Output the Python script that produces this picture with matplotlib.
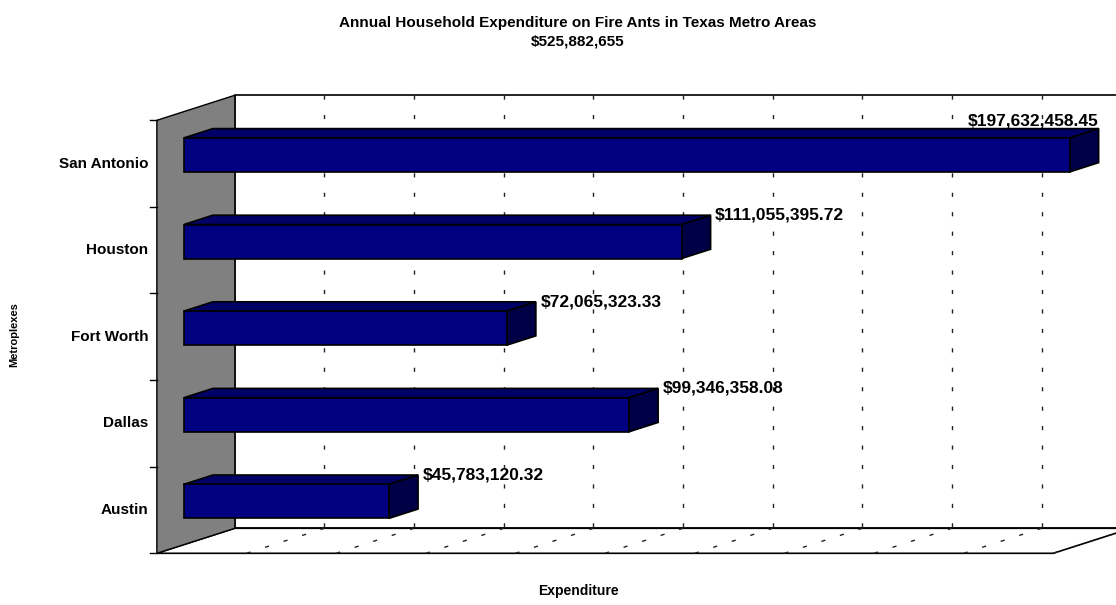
import numpy as np
import matplotlib.pyplot as plt
from matplotlib.patches import Polygon

plt.rcParams['font.family'] = ['Liberation Sans', 'DejaVu Sans']

cities = ['Austin', 'Dallas', 'Fort Worth', 'Houston', 'San Antonio']
spend = [45783120.32, 99346358.08, 72065323.33, 111055395.72, 197632458.45]
title = 'Annual Household Expenditure on Fire Ants in Texas Metro Areas\n$525,882,655'
xmax = 200e6
grid_step = 20e6

# fake 3d: depth shift of the whole box (data units), bar plane and bar depth
DX = 17.4e6
DY = 0.289
d0, d1 = 0.346, 0.718
bh = 0.393

fig = plt.figure(figsize=(11.16, 6.05), dpi=100)
ax = fig.add_axes([0, 0, 1, 1])
ax.set_xlim(-35.0e6, 214.0e6)
ax.set_ylim(-1.097, 5.889)
ax.axis('off')

n = len(cities)
lo, hi = -0.5, n - 0.5

# back wall
ax.add_patch(Polygon([(DX, lo + DY), (DX + xmax, lo + DY), (DX + xmax, hi + DY), (DX, hi + DY)],
                     closed=True, fc='white', ec='black', lw=1.2, zorder=1))
# floor
ax.add_patch(Polygon([(0, lo), (xmax, lo), (xmax + DX, lo + DY), (DX, lo + DY)],
                     closed=True, fc='white', ec='black', lw=1.2, zorder=1))
# side wall
ax.add_patch(Polygon([(0, lo), (0, hi), (DX, hi + DY), (DX, lo + DY)],
                     closed=True, fc='#808080', ec='black', lw=1.0, zorder=2))

# gridlines on wall and floor
for g in np.arange(grid_step, xmax + 1, grid_step):
    ax.plot([g + DX, g + DX], [hi + DY, lo + DY], color='#222222', lw=1.0,
            dashes=(3, 11), zorder=1.5)
    ax.plot([g, g + DX], [lo, lo + DY], color='#222222', lw=1.0,
            dashes=(3, 11), zorder=1.5)

# category ticks on the front edge
for b in np.arange(lo, hi + 0.1, 1):
    ax.plot([-1.6e6, 0], [b, b], color='black', lw=1.0, zorder=3)

y = np.arange(n)
yf = y + DY * d0
ax.barh(yf, spend, height=bh, left=DX * d0, color='#000080',
        edgecolor='black', linewidth=1.2, zorder=5)

for i, v in enumerate(spend):
    xs, xe = DX * d0, DX * d0 + v
    top = yf[i] + bh / 2
    bot = yf[i] - bh / 2
    ddx, ddy = DX * (d1 - d0), DY * (d1 - d0)
    ax.add_patch(Polygon([(xs, top), (xe, top), (xe + ddx, top + ddy), (xs + ddx, top + ddy)],
                         closed=True, fc='#000066', ec='black', lw=1.2, zorder=4))
    ax.add_patch(Polygon([(xe, bot), (xe, top), (xe + ddx, top + ddy), (xe + ddx, bot + ddy)],
                         closed=True, fc='#000046', ec='black', lw=1.2, zorder=4))
    lab = '${:,.2f}'.format(v)
    if v == max(spend):
        ax.text(xe + ddx, top + ddy, lab, ha='right', va='bottom',
                fontsize=12.5, fontweight='bold', zorder=6)
    else:
        ax.text(xe + ddx + 1.0e6, top + ddy, lab, ha='left', va='center',
                fontsize=12.5, fontweight='bold', zorder=6)

for i, c in enumerate(cities):
    ax.text(-1.9e6, y[i], c, ha='right', va='center', fontsize=11,
            fontweight='bold')

fig.text(0.518, 0.974, title, ha='center', va='top', fontsize=11,
         fontweight='bold', linespacing=1.45)
fig.text(0.518, 0.012, 'Expenditure', ha='center', va='bottom', fontsize=10,
         fontweight='bold')
fig.text(0.013, 0.447, 'Metroplexes', ha='center', va='center', rotation=90,
         fontsize=8, fontweight='bold')

fig.savefig('out.png', dpi=100)
